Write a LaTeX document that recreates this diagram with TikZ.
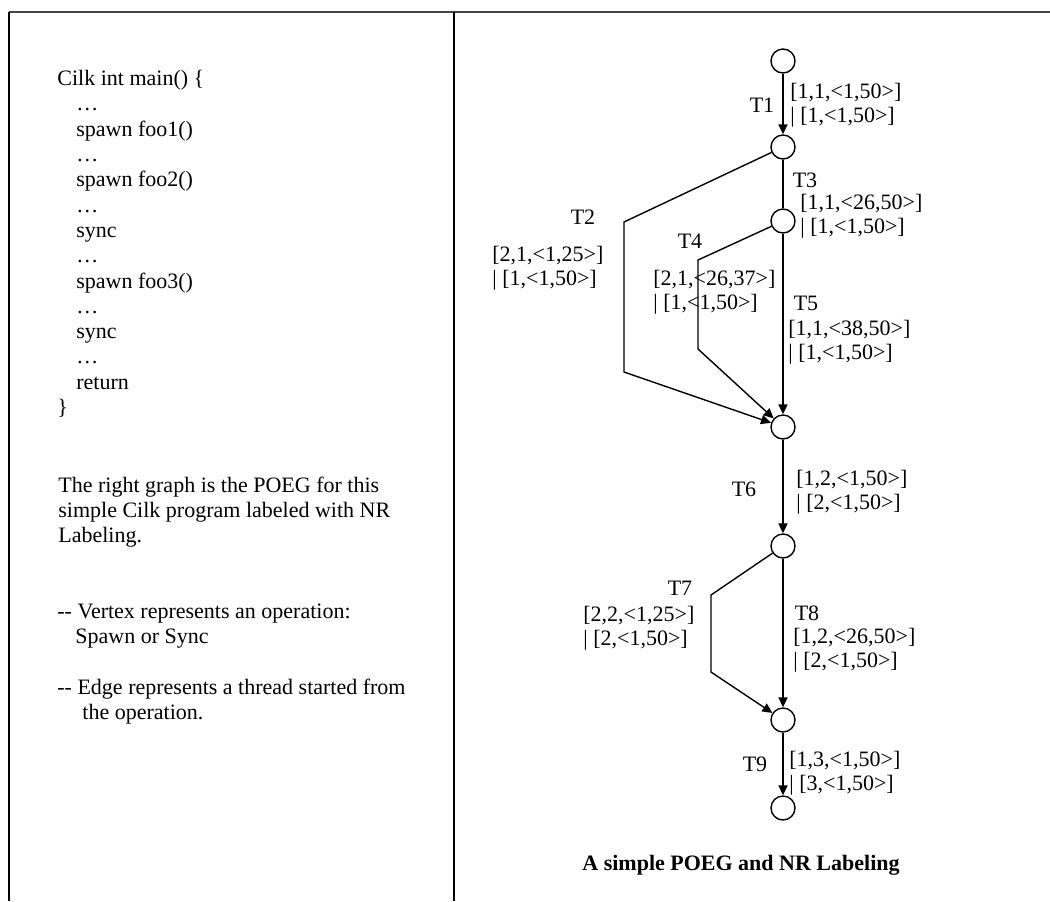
\documentclass[tikz,border=0pt]{standalone}
\usepackage{fontspec}
\setmainfont{Liberation Serif}
\usetikzlibrary{arrows.meta}
\definecolor{FrameGray}{RGB}{70,70,70}
\tikzset{
  vtx/.style={circle,draw=black,fill=white,inner sep=0pt,minimum size=12pt,line width=0.7pt},
  thr/.style={draw=black,line width=0.7pt},
  go/.style={thr,-{Triangle[length=5pt,width=4.6pt]}},
  lbl/.style={font=\fontsize{11}{12}\selectfont,inner sep=0pt,align=left,anchor=west},
  tname/.style={font=\fontsize{11}{12}\selectfont,inner sep=0pt},
}
\tikzset{para/.style={font=\fontsize{11}{12.5}\selectfont,inner sep=0pt,align=left,anchor=north west}, codeblk/.style={para,font=\fontsize{11}{12.65}\selectfont}}

\begin{document}
\begin{tikzpicture}[x=0.5pt,y=-0.5pt]
\useasboundingbox (0,0) rectangle (1050,901);
% frame
\draw[FrameGray,line width=1pt] (9,12) -- (1050,12);
\draw[line width=0.7pt] (9,12) -- (9,901);
\draw[line width=0.7pt] (454,12) -- (454,901);
% left column
\node[codeblk] (code) at (57,70) {Cilk int main() \{\\
\hspace*{9.5pt}\ldots\\
\hspace*{9.5pt}spawn foo1()\\
\hspace*{9.5pt}\ldots\\
\hspace*{9.5pt}spawn foo2()\\
\hspace*{9.5pt}\ldots\\
\hspace*{9.5pt}sync\\
\hspace*{9.5pt}\ldots\\
\hspace*{9.5pt}spawn foo3()\\
\hspace*{9.5pt}\ldots\\
\hspace*{9.5pt}sync\\
\hspace*{9.5pt}\ldots\\
\hspace*{9.5pt}return\\
\}};
\node[para] (desc) at (58,477) {The right graph is the POEG for this\\
simple Cilk program labeled with NR\\
Labeling.};
\node[para] (vnote) at (57,604) {-{}- Vertex represents an operation:\\
\hspace*{9pt}Spawn or Sync};
\node[para] (enote) at (57,679) {-{}- Edge represents a thread started from\\
\hspace*{12.5pt}the operation.};
% vertices
\node[vtx] (v0) at (783,61) {};
\node[vtx] (v1) at (783,147) {};
\node[vtx] (v2) at (783,221) {};
\node[vtx] (v3) at (783,427) {};
\node[vtx] (v4) at (783,546) {};
\node[vtx] (v5) at (783,720) {};
\node[vtx] (v6) at (783,808) {};
\coordinate (b2a) at (624,222);
\coordinate (b2b) at (624,372);
\coordinate (b4a) at (698,260);
\coordinate (b4b) at (698,349);
\coordinate (b7a) at (711,595);
\coordinate (b7b) at (711,672);
% threads
\draw[go] (v0) -- (v1);
\draw[go] (v1) -- (b2a) -- (b2b) -- (v3);
\draw[thr] (v1) -- (v2);
\draw[go] (v2) -- (b4a) -- (b4b) -- (v3);
\draw[go] (v2) -- (v3);
\draw[go] (v3) -- (v4);
\draw[go] (v4) -- (b7a) -- (b7b) -- (v5);
\draw[go] (v4) -- (v5);
\draw[go] (v5) -- (v6);
% thread names and labels
\node[tname] (t1) at (762,105) {T1};
\node[tname] (t2) at (583,217) {T2};
\node[tname] (t3) at (805,180) {T3};
\node[tname] (t4) at (690,241) {T4};
\node[tname] (t5) at (806,303) {T5};
\node[tname] (t6) at (744,489) {T6};
\node[tname] (t7) at (680,588) {T7};
\node[tname] (t8) at (807,613) {T8};
\node[tname] (t9) at (755,764) {T9};
\node[lbl] (l1) at (790,105) {[1,1,<1,50>]\\| [1,<1,50>]};
\node[lbl] (l2) at (492,268) {[2,1,<1,25>]\\| [1,<1,50>]};
\node[lbl] (l3) at (800,216) {[1,1,<26,50>]\\| [1,<1,50>]};
\node[lbl] (l4) at (653,292) {[2,1,<26,37>]\\| [1,<1,50>]};
\node[lbl] (l5) at (788,342) {[1,1,<38,50>]\\| [1,<1,50>]};
\node[lbl] (l6) at (796,492) {[1,2,<1,50>]\\| [2,<1,50>]};
\node[lbl] (l7) at (583,628) {[2,2,<1,25>]\\| [2,<1,50>]};
\node[lbl] (l8) at (793,650) {[1,2,<26,50>]\\| [2,<1,50>]};
\node[lbl] (l9) at (789,773) {[1,3,<1,50>]\\| [3,<1,50>]};
\node[font=\fontsize{11}{12}\selectfont\bfseries,inner sep=0pt] (cap) at (741,865) {A simple POEG and NR Labeling};
\end{tikzpicture}
\end{document}
